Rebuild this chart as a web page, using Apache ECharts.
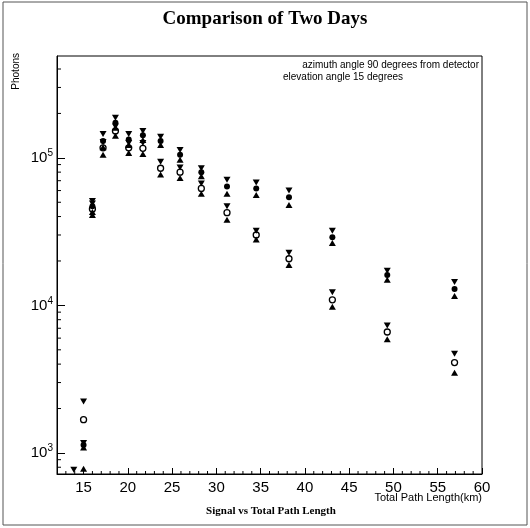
<!DOCTYPE html>
<html>
<head>
<meta charset="utf-8">
<script src="https://cdn.jsdelivr.net/npm/echarts@6/dist/echarts.min.js"></script>
<style>
  html, body { margin: 0; padding: 0; background: #fff; }
  #chart { width: 530px; height: 528px; }
</style>
</head>
<body>
<div id="chart"></div>
<script>
// Total path length of each measurement (km)
const pathKm = [13.9, 15.0, 16.0, 17.2, 18.6, 20.1, 21.7, 23.7, 25.9, 28.3, 31.2, 34.5, 38.2, 43.1, 49.3, 56.9];

// Day one: open circles, with upper / lower limits
const dayOne     = [null, 1680, 45000, 117000, 152000, 117000, 116000, 85000, 80000, 62000, 42500, 30000, 20700, 10900, 6600, 4100];
const dayOneHigh = [null, 2230, 49000, 128000, 163000, 126000, 126000, 94000, 86000, 67000, 47000, 32000, 22700, 12300, 7300, 4700];
const dayOneLow  = [null, 780, 41000, 105000, 141000, 108000, 106000, 77000, 73000, 57000, 38000, 28000, 18800, 9800, 5900, 3500];

// Day two: filled circles, with upper / lower limits
const dayTwo     = [null, 1130, 47000, 130000, 173000, 133000, 142000, 130000, 105000, 80000, 64000, 62000, 54000, 29000, 16100, 12900];
const dayTwoHigh = [770, 1170, 51000, 145000, 187000, 145000, 152000, 139000, 113000, 85000, 71000, 68000, 60000, 32000, 17200, 14400];
const dayTwoLow  = [null, 1090, 43000, 118000, 160000, 122000, 132000, 122000, 97000, 75000, 57000, 56000, 48000, 26500, 14900, 11600];

// Axis ranges
const xMin = 12, xMax = 60;
const yMin = 720, yMax = 490000;

function pairs(vals) {
  const out = [];
  pathKm.forEach((x, i) => { if (vals[i] != null) out.push([x, vals[i]]); });
  return out;
}

// minor tick positions
const yMinor = [];
[100, 1000, 10000, 100000].forEach(d => {
  for (let m = 2; m <= 9; m++) {
    const v = m * d;
    if (v > yMin && v < yMax) yMinor.push([xMin, v]);
  }
});
const xMinor = [];
for (let k = xMin + 1; k < xMax; k++) {
  if (k % 5 !== 0) xMinor.push([k, yMin]);
}

const sansFont = '"Liberation Sans", Arial, sans-serif';
const serifFont = '"Liberation Serif", "Times New Roman", serif';

const chart = echarts.init(document.getElementById('chart'), null, { renderer: 'canvas' });

const triSize = [7, 6];
const dotSize = 6;

const option = {
  backgroundColor: '#fff',
  animation: false,
  title: {
    text: 'Comparison of Two Days',
    left: 'center',
    top: 5,
    textStyle: { fontFamily: serifFont, fontWeight: 'bold', fontSize: 19, color: '#000' }
  },
  grid: {
    left: 57, top: 56, right: 48, bottom: 54,
    show: true, borderColor: '#000', borderWidth: 1, backgroundColor: 'transparent'
  },
  xAxis: {
    type: 'value',
    min: xMin, max: xMax,
    splitNumber: 10,
    axisLine: { lineStyle: { color: '#000', width: 1 } },
    axisTick: { inside: true, length: 6, lineStyle: { color: '#000' } },
    splitLine: { show: false },
    axisLabel: {
      showMinLabel: false,
      margin: 6,
      fontFamily: sansFont, fontSize: 15, color: '#000'
    }
  },
  yAxis: {
    type: 'log',
    logBase: 10,
    min: yMin, max: yMax,
    axisLine: { lineStyle: { color: '#000', width: 1 } },
    axisTick: { inside: true, length: 8, lineStyle: { color: '#000' } },
    splitLine: { show: false },
    axisLabel: {
      showMinLabel: false,
      showMaxLabel: false,
      margin: 4,
      formatter: v => '{b|10}{s|' + Math.round(Math.log10(v)) + '}',
      rich: {
        b: { fontFamily: sansFont, fontSize: 15, color: '#000' },
        s: { fontFamily: sansFont, fontSize: 10, color: '#000', padding: [0, 0, 9, 0] }
      }
    }
  },
  graphic: [
    { type: 'rect', shape: { x: 3, y: 2, width: 524, height: 523 },
      style: { fill: 'none', stroke: '#555', lineWidth: 1 }, silent: true },
    { type: 'text', x: 16, y: 53, rotation: Math.PI / 2,
      style: { text: 'Photons', fontFamily: sansFont, fontSize: 10, fill: '#000',
               align: 'right', verticalAlign: 'middle' } },
    { type: 'text', x: 479, y: 65,
      style: { text: 'azimuth angle 90 degrees from detector', fontFamily: sansFont, fontSize: 10,
               fill: '#000', align: 'right', verticalAlign: 'middle' } },
    { type: 'text', x: 283, y: 77,
      style: { text: 'elevation angle 15 degrees', fontFamily: sansFont, fontSize: 10,
               fill: '#000', align: 'left', verticalAlign: 'middle' } },
    { type: 'text', x: 482, y: 498,
      style: { text: 'Total Path Length(km)', fontFamily: sansFont, fontSize: 11,
               fill: '#000', align: 'right', verticalAlign: 'middle' } },
    { type: 'text', x: 271, y: 511,
      style: { text: 'Signal vs Total Path Length', fontFamily: serifFont, fontSize: 11,
               fontWeight: 'bold', fill: '#000', align: 'center', verticalAlign: 'middle' } }
  ],
  series: [
    {
      name: 'y minor ticks', type: 'custom', silent: true, clip: false, z: 1,
      data: yMinor,
      renderItem: (params, api) => {
        const p = api.coord([api.value(0), api.value(1)]);
        return { type: 'line', shape: { x1: p[0], y1: p[1], x2: p[0] + 4, y2: p[1] },
                 style: { stroke: '#000', lineWidth: 1 } };
      }
    },
    {
      name: 'x minor ticks', type: 'custom', silent: true, clip: false, z: 1,
      data: xMinor,
      renderItem: (params, api) => {
        const p = api.coord([api.value(0), api.value(1)]);
        return { type: 'line', shape: { x1: p[0], y1: p[1], x2: p[0], y2: p[1] - 3 },
                 style: { stroke: '#000', lineWidth: 1 } };
      }
    },
    {
      name: 'Day 1', type: 'scatter', z: 3,
      symbol: 'circle', symbolSize: dotSize,
      itemStyle: { color: '#fff', borderColor: '#000', borderWidth: 1.3, opacity: 1 },
      data: pairs(dayOne)
    },
    {
      name: 'Day 2', type: 'scatter', z: 3,
      symbol: 'circle', symbolSize: dotSize,
      itemStyle: { color: '#000', opacity: 1 },
      data: pairs(dayTwo)
    },
    {
      name: 'Day 1 upper', type: 'scatter', z: 4,
      symbol: 'triangle', symbolRotate: 180, symbolSize: triSize,
      itemStyle: { color: '#000', opacity: 1 },
      data: pairs(dayOneHigh)
    },
    {
      name: 'Day 1 lower', type: 'scatter', z: 4,
      symbol: 'triangle', symbolSize: triSize,
      itemStyle: { color: '#000', opacity: 1 },
      data: pairs(dayOneLow)
    },
    {
      name: 'Day 2 upper', type: 'scatter', z: 4,
      symbol: 'triangle', symbolRotate: 180, symbolSize: triSize,
      itemStyle: { color: '#000', opacity: 1 },
      data: pairs(dayTwoHigh)
    },
    {
      name: 'Day 2 lower', type: 'scatter', z: 4,
      symbol: 'triangle', symbolSize: triSize,
      itemStyle: { color: '#000', opacity: 1 },
      data: pairs(dayTwoLow)
    }
  ]
};

chart.setOption(option);
</script>
</body>
</html>
